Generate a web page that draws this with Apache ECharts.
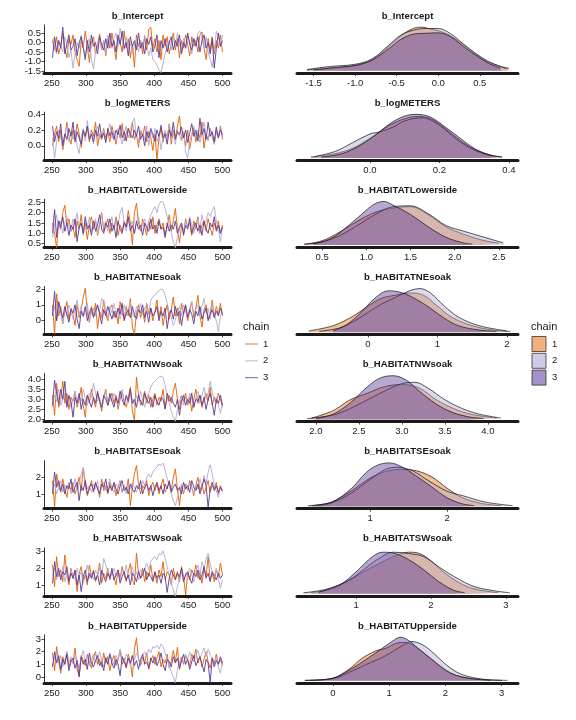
<!DOCTYPE html>
<html><head><meta charset="utf-8">
<script src="https://cdn.jsdelivr.net/npm/echarts@6/dist/echarts.min.js"></script>
<style>html,body{margin:0;padding:0;background:#fff}#c{width:576px;height:720px}</style>
</head><body><div id="c"></div>
<script>
// ---------- parameter names ----------
const params = ['b_Intercept','b_logMETERS','b_HABITATLowerside','b_HABITATNEsoak','b_HABITATNWsoak','b_HABITATSEsoak','b_HABITATSWsoak','b_HABITATUpperside'];
const chains = ['1','2','3'];
// trace values: every 3rd iteration starting at 251
const iterStart = 251, iterStep = 3;

// ---------- trace data (chain 1, 2, 3) ----------
const trIntercept1 = [0.1,-0.4,0.3,-0.6,-0.2,0.5,-0.3,-0.8,0.2,-0.1,0.4,-0.5,-0.9,-1.25,0.1,-0.3,0.6,-0.2,-1.05,0.0,0.3,-0.6,-0.1,0.45,-0.4,0.1,-0.7,0.2,-0.3,0.5,-0.2,-0.9,0.3,0.0,-0.5,0.6,-0.3,0.2,-0.8,-0.1,-1.3,0.4,-0.2,0.1,-0.6,0.3,-0.4,0.7,0.8,-0.3,0.2,-0.5,0.1,-0.9,0.4,-0.2,0.3,-0.6,0.0,0.5,-0.4,0.2,-0.8,0.1,-0.3,0.4,-0.1,-0.7,0.3,-0.2,0.1,-0.5,0.4,0.55,-0.3,-0.9,0.2,-0.4,0.3,-0.6,0.1,-0.3,0.4,-0.5];
const trIntercept2 = [0.2,-0.3,-0.6,0.1,-0.2,-0.5,0.3,-0.1,-0.8,-0.4,-1.35,-0.6,0.0,-0.3,0.4,-0.2,-0.7,-0.1,0.2,-0.9,-1.4,-0.5,-0.2,0.3,-0.4,0.1,-0.6,0.4,-0.1,-0.3,0.2,0.5,-0.2,0.75,0.1,-0.4,0.3,-0.3,0.0,-0.6,-0.2,0.2,-0.5,0.1,-0.3,0.4,-0.1,-0.7,-0.3,-0.9,-1.0,-1.2,-1.45,-1.58,-1.1,-0.6,-0.2,0.1,-0.4,0.3,-0.2,0.5,-0.1,-0.5,0.2,-0.3,0.4,0.0,-0.6,0.2,-0.1,0.5,0.6,0.2,-0.3,0.3,-0.5,-0.9,-1.3,-0.4,0.6,0.3,-0.2,0.4];
const trIntercept3 = [-0.8,0.3,-0.5,0.1,-0.3,0.8,-0.6,-0.1,0.4,-0.4,-0.2,0.2,-0.7,0.0,0.3,-0.3,-0.9,0.1,-0.5,0.4,-0.2,0.0,-0.6,0.3,-0.1,-0.4,0.2,-0.3,0.5,-0.2,0.1,-0.5,0.4,-0.1,0.6,-0.3,0.0,-0.7,0.3,-0.2,0.1,-0.4,0.5,-0.3,0.0,-0.6,0.2,-0.1,0.3,-0.5,-0.2,0.4,-0.8,0.1,-0.3,0.2,-0.5,0.0,0.3,-0.4,0.1,-0.2,0.4,-0.6,0.0,-0.3,0.5,-0.1,-0.4,0.2,-0.2,0.3,-0.5,0.1,0.4,-0.3,0.0,-0.6,0.2,-1.35,-0.3,0.5,-0.2,0.1];

const trLogMeters1 = [0.0,0.15,0.25,0.05,0.2,-0.05,0.1,0.3,0.12,0.02,0.2,0.08,0.28,0.15,-0.02,0.18,0.1,0.25,0.05,0.2,0.12,0.3,0.0,0.15,0.08,0.22,0.1,0.18,0.05,0.25,0.14,0.02,0.2,0.1,0.28,0.06,0.16,0.22,0.1,0.3,0.08,0.15,-0.02,0.2,0.12,0.25,0.05,0.18,0.1,-0.06,0.15,-0.17,0.1,0.22,0.05,0.18,0.12,0.28,0.02,0.2,0.1,0.25,0.38,0.08,0.15,0.0,0.2,-0.04,0.12,0.22,0.05,0.18,0.1,0.3,-0.03,0.15,0.08,0.22,0.12,0.02,0.2,0.1,0.25,0.08];
const trLogMeters2 = [0.1,-0.16,0.05,0.2,0.1,-0.02,0.15,0.25,0.05,0.18,0.08,0.2,0.0,-0.1,0.12,0.22,0.06,0.32,0.1,0.15,0.02,0.18,0.25,0.08,0.14,0.2,0.05,0.16,0.28,0.1,0.18,0.06,0.22,0.12,0.02,0.15,0.25,0.1,0.2,0.3,0.35,0.12,0.05,0.2,0.15,0.08,0.25,0.0,0.18,0.1,0.22,0.05,0.15,-0.05,0.12,0.2,0.08,0.28,0.1,0.15,0.02,0.2,0.12,0.06,0.18,-0.08,-0.16,0.05,0.15,0.25,0.1,0.2,0.04,0.16,0.3,0.12,0.06,0.22,0.15,0.02,0.18,0.1,0.26,0.12];
const trLogMeters3 = [0.25,0.05,0.18,0.1,0.28,0.0,0.15,0.08,0.22,0.12,0.3,0.05,0.18,0.1,0.02,0.2,0.12,0.25,0.08,0.15,0.05,0.2,0.12,0.28,0.1,0.16,0.04,0.22,0.13,0.18,0.08,0.2,0.14,0.26,0.1,0.18,0.06,0.22,0.15,0.1,0.2,0.12,0.25,0.08,0.15,0.0,0.18,0.1,0.22,0.14,0.06,0.2,0.12,0.26,0.1,0.15,0.02,0.2,0.12,0.3,0.08,0.18,0.14,0.24,0.1,0.2,0.04,0.16,0.28,0.12,0.2,0.06,0.35,0.14,0.22,0.08,0.3,0.12,0.18,0.05,0.24,0.1,0.2,0.14];

const trLowerside1 = [1.5,1.0,0.3,1.6,1.2,2.0,2.35,1.4,1.7,1.1,1.3,0.8,1.6,1.2,1.9,1.0,1.5,0.7,1.4,1.8,1.2,1.6,0.9,1.4,2.0,1.1,1.3,1.7,1.0,1.5,1.2,1.8,0.9,1.4,1.1,1.6,1.3,2.1,1.5,0.45,2.0,2.45,1.5,1.1,1.7,1.3,0.9,1.6,1.2,1.8,1.0,1.4,1.7,1.2,1.5,0.9,1.3,1.9,1.1,1.6,2.2,1.2,0.55,1.4,1.0,1.7,1.3,1.5,0.9,1.6,1.2,1.8,1.0,1.4,1.6,1.1,1.7,1.3,0.9,1.5,1.2,1.6,1.0,1.4];
const trLowerside2 = [0.8,1.4,1.9,1.2,1.6,1.0,1.5,1.8,1.3,1.1,1.7,1.4,2.0,1.2,1.5,0.9,1.6,1.3,1.8,1.1,1.4,1.7,1.0,1.5,1.9,1.3,1.6,1.1,1.4,1.8,1.2,1.6,1.4,2.0,2.25,1.5,1.1,1.7,1.3,1.6,1.0,1.5,1.8,1.2,1.4,1.7,1.1,1.6,1.9,2.1,2.3,2.0,2.4,2.55,2.5,2.2,1.8,1.4,1.0,0.6,0.3,0.8,1.2,1.5,1.1,1.6,1.3,1.8,1.4,1.0,1.5,1.7,1.2,1.9,1.4,1.6,2.0,1.8,2.1,2.3,1.6,1.2,0.6,1.3];
const trLowerside3 = [1.0,2.15,0.8,1.6,1.3,1.8,1.1,1.5,0.9,1.4,1.2,1.7,0.6,1.3,1.5,1.0,1.8,1.2,1.4,0.9,1.6,1.1,1.4,1.9,1.2,1.0,1.5,1.3,1.7,1.1,1.4,0.8,1.6,1.2,1.0,1.5,1.3,1.8,1.1,1.4,1.0,1.6,1.2,1.4,0.9,1.5,1.3,1.1,1.7,1.2,1.4,1.0,1.6,1.2,1.3,0.8,1.5,1.1,1.4,1.2,1.6,1.0,1.3,1.5,0.9,1.4,1.2,1.7,1.0,1.3,1.5,1.1,1.4,0.9,1.6,1.2,1.0,1.5,1.3,1.8,1.1,1.4,1.0,1.3];

const trNEsoak1 = [1.0,-0.85,1.7,0.3,0.9,-0.2,0.6,1.2,0.1,0.8,0.4,-0.3,1.0,0.2,0.7,1.5,2.05,0.5,-0.1,0.9,0.3,1.1,-0.5,0.6,0.2,1.3,0.4,0.0,0.8,1.0,0.2,0.6,-0.2,1.2,0.5,0.1,0.9,0.3,1.4,-0.4,-0.85,0.5,1.0,0.2,0.7,-0.1,1.1,0.4,0.8,0.0,0.6,1.3,0.2,0.9,-0.3,0.5,1.0,0.1,0.7,1.5,0.3,0.8,-0.2,1.1,0.4,0.9,0.0,0.6,1.2,0.2,0.8,1.6,0.3,-0.4,0.7,1.0,0.1,0.5,1.3,0.2,0.9,0.4,1.1,0.3];
const trNEsoak2 = [0.4,0.9,0.0,1.2,0.5,-0.2,0.8,0.3,1.0,0.6,0.1,0.7,1.3,0.4,0.9,0.2,0.6,1.1,0.0,0.5,0.8,0.3,1.0,0.6,1.4,1.2,0.7,0.2,0.9,0.5,1.1,0.4,0.8,0.1,0.6,1.0,0.3,0.7,1.2,0.5,0.2,0.9,0.6,1.1,0.4,0.8,1.0,0.5,1.3,1.5,1.6,1.8,1.9,2.0,1.95,1.6,1.1,0.6,0.2,-0.3,0.1,0.5,0.9,0.3,1.0,0.6,0.2,0.8,1.2,0.4,0.7,1.0,0.3,0.9,1.4,0.5,0.8,0.1,1.1,0.4,0.0,-0.7,0.3,0.6];
const trNEsoak3 = [0.3,1.85,0.0,1.2,0.6,0.2,0.9,0.4,-0.1,0.7,0.5,1.0,0.1,-0.5,0.6,0.3,0.9,0.0,0.5,0.8,0.2,0.6,1.0,0.4,-0.2,0.7,0.3,0.9,0.5,0.1,0.6,0.2,0.8,0.4,1.1,0.0,0.5,0.7,0.2,0.9,0.4,0.1,0.7,0.5,1.0,0.2,0.6,-0.1,0.8,0.3,0.5,0.9,0.0,0.6,0.3,0.8,-0.5,0.4,0.7,0.1,0.9,0.3,0.6,-0.3,0.5,1.0,0.2,0.7,0.4,-0.2,0.6,0.3,0.9,0.1,0.5,0.8,0.0,0.4,0.7,0.2,0.6,0.3,0.8,0.4];

const trNWsoak1 = [3.2,2.2,3.8,2.6,3.0,3.9,2.8,3.3,2.5,3.1,2.9,3.4,2.6,3.0,3.6,2.7,2.1,3.2,2.8,3.5,3.0,2.6,3.3,2.9,2.4,3.1,3.5,2.7,3.0,3.3,2.8,3.2,2.5,3.0,3.4,2.9,2.6,3.1,3.6,2.4,1.95,4.1,3.2,2.7,3.0,3.4,2.8,3.2,2.6,3.0,3.3,2.7,3.1,2.9,3.5,2.6,3.0,3.2,2.8,3.4,3.8,3.0,2.5,3.2,2.9,3.3,2.7,3.1,2.4,3.0,3.5,2.8,3.2,2.6,3.0,3.3,2.9,3.6,2.7,3.1,2.8,3.3,3.0,2.6];
const trNWsoak2 = [2.6,3.2,2.9,3.5,2.7,3.0,3.3,2.8,3.1,2.6,3.0,3.4,2.8,3.2,2.9,3.5,3.0,2.7,3.3,3.1,3.8,3.3,2.9,3.1,2.6,3.0,3.4,2.8,3.2,2.9,3.3,3.0,2.7,3.2,3.5,2.9,3.1,2.8,3.3,3.0,2.7,3.2,2.9,3.4,3.0,2.6,3.1,3.3,3.6,3.8,3.9,4.0,4.1,4.15,4.1,3.7,3.2,2.8,2.4,2.1,1.9,2.5,2.9,3.2,2.7,3.1,2.8,3.3,3.0,2.6,3.1,3.4,2.8,3.2,3.6,3.0,3.3,3.9,3.4,2.9,3.1,2.7,2.3,2.8];
const trNWsoak3 = [2.7,3.95,3.3,2.8,3.5,3.0,3.9,2.6,3.2,2.9,2.1,3.1,2.8,3.3,2.5,3.0,2.7,3.2,2.9,2.6,3.1,2.8,3.4,2.9,2.6,3.2,3.0,2.7,3.3,2.9,2.6,3.1,2.8,3.4,3.0,2.7,3.2,2.9,3.5,2.8,3.0,2.6,3.2,2.9,2.7,3.3,3.0,2.8,3.1,2.6,3.2,2.9,2.7,3.1,3.0,2.5,3.3,2.9,3.1,2.8,2.6,3.0,2.2,2.9,3.2,2.7,3.0,2.8,3.3,2.6,3.0,2.9,3.2,2.7,3.1,2.5,3.0,3.3,2.8,2.2,3.0,2.8,3.2,2.7];

const trSEsoak1 = [1.8,0.25,2.2,1.5,1.1,1.9,1.3,0.8,1.6,1.2,1.7,1.0,1.4,2.0,1.2,2.55,1.5,0.9,1.3,1.8,1.1,1.6,1.4,0.8,1.9,1.2,1.5,1.0,1.7,1.3,1.6,0.9,1.4,1.8,1.1,1.5,1.2,1.9,0.3,1.4,2.2,2.7,1.6,1.0,1.5,1.3,1.8,0.9,1.4,1.7,1.2,1.6,1.0,1.5,1.9,1.1,1.4,1.7,1.2,2.0,2.5,1.3,0.3,1.5,1.0,1.6,1.2,1.8,1.4,0.9,1.5,2.0,1.2,1.6,1.0,1.4,1.8,1.1,1.5,1.3,1.7,1.0,1.5,1.2];
const trSEsoak2 = [1.2,1.6,1.0,1.4,1.8,1.1,1.5,1.3,1.7,1.0,1.4,1.9,1.2,1.6,2.2,2.6,1.8,1.3,1.5,1.1,1.6,1.3,1.8,1.0,1.4,1.7,1.2,1.5,1.9,1.3,1.1,1.6,1.4,1.8,1.2,1.5,1.0,1.6,1.3,1.7,1.4,1.1,1.6,1.3,1.8,1.5,2.0,2.2,2.0,2.3,2.5,2.6,2.8,2.7,2.85,2.4,1.9,1.5,1.0,0.6,0.3,0.8,1.3,1.6,1.1,1.5,1.2,1.7,1.4,1.0,1.6,1.3,1.9,1.4,2.1,1.6,2.3,2.75,2.2,1.5,1.2,0.8,1.4,1.1];
const trSEsoak3 = [1.0,2.3,1.4,1.8,1.2,1.6,1.0,1.5,1.3,1.9,1.1,1.4,1.7,0.6,1.5,1.2,1.8,1.0,1.4,1.6,1.2,1.7,1.3,1.0,1.6,1.4,1.9,1.1,1.5,1.2,1.7,1.3,1.0,1.5,1.8,1.2,1.4,1.0,1.6,1.3,1.1,1.5,1.3,1.8,1.0,1.4,1.6,1.2,1.5,0.9,1.4,1.7,1.2,1.5,1.0,1.6,1.3,1.8,1.1,1.4,1.6,1.2,1.4,1.0,1.7,1.3,1.5,1.1,1.8,1.4,1.2,1.6,1.0,1.4,1.9,1.5,0.2,1.3,1.7,1.2,1.5,1.1,1.4,1.2];

const trSWsoak1 = [2.2,0.9,2.7,1.5,1.9,1.2,2.8,1.6,1.0,2.0,1.4,1.8,0.6,1.7,2.1,1.3,1.6,1.0,2.2,1.5,1.9,1.2,1.6,2.3,1.1,1.7,1.4,2.0,1.3,1.8,1.5,1.0,1.9,1.4,2.1,1.6,1.2,1.8,2.3,1.3,1.0,2.9,1.7,1.4,2.0,1.2,1.8,1.5,2.2,1.3,1.7,1.1,1.9,1.5,2.4,1.3,1.8,1.6,1.0,2.0,1.4,1.8,1.2,2.1,1.5,0.4,1.7,1.3,1.9,1.6,2.2,1.4,1.8,1.1,2.0,1.5,2.7,1.3,1.7,1.2,1.9,1.5,2.3,1.6];
const trSWsoak2 = [1.6,2.0,1.3,1.8,1.5,2.1,1.2,1.7,1.4,1.9,1.6,1.3,2.0,1.5,1.8,1.1,1.6,2.2,1.4,1.7,1.3,1.9,1.6,2.0,1.5,2.6,2.2,1.8,1.4,1.7,2.0,1.5,1.8,1.3,1.9,1.6,2.2,1.4,1.7,2.1,1.5,1.8,1.3,1.9,1.6,2.0,2.3,1.9,2.4,2.6,2.7,2.5,2.9,2.8,3.05,2.6,2.1,1.6,1.1,0.7,0.3,0.9,1.4,1.8,1.3,1.7,1.5,2.0,1.6,1.2,1.8,2.2,1.6,2.4,2.0,2.6,2.9,2.3,1.8,1.5,2.0,1.4,0.8,1.3];
const trSWsoak3 = [1.1,2.4,1.5,2.0,1.3,1.8,1.6,2.1,1.2,1.7,1.4,1.9,1.0,1.6,0.6,1.5,1.9,1.2,1.7,1.4,1.8,1.3,1.6,1.0,1.9,1.5,1.2,1.7,1.4,2.0,1.3,1.6,1.9,1.1,1.5,1.8,1.3,1.6,1.0,1.7,1.5,1.2,1.8,1.4,1.6,2.0,1.3,1.7,1.5,1.2,1.8,1.4,1.6,1.1,1.7,1.5,0.55,1.4,1.9,1.6,1.3,1.7,1.5,2.0,1.2,1.6,1.8,1.4,1.1,1.7,1.5,1.9,1.3,1.6,2.1,1.4,1.7,1.2,1.8,1.5,1.3,1.7,1.4,1.6];

const trUpperside1 = [1.9,0.5,2.4,1.2,0.3,1.6,1.0,2.0,0.8,1.4,1.1,2.3,0.6,0.1,1.7,1.3,0.9,1.8,1.2,0.7,1.5,2.0,1.0,1.4,0.8,1.9,1.1,1.6,0.5,1.3,1.7,0.9,1.4,2.1,1.0,1.5,0.7,1.8,1.2,0.0,2.2,3.1,1.4,0.9,1.6,1.1,1.9,0.6,1.3,1.7,1.0,1.5,2.0,0.8,1.4,1.1,1.8,0.7,1.3,2.1,1.2,2.35,0.6,1.5,1.0,1.7,1.3,0.9,1.8,1.4,2.2,1.1,1.6,0.8,1.4,2.0,1.2,0.7,1.5,1.1,1.8,1.0,1.4,0.9];
const trUpperside2 = [0.9,1.5,1.9,1.1,1.7,0.8,1.4,2.0,1.2,1.6,1.0,1.8,1.3,0.7,1.5,2.1,1.2,1.6,0.9,1.4,1.8,1.1,1.5,2.0,1.3,0.8,1.6,1.2,1.9,1.4,1.0,1.7,1.3,2.2,1.5,1.1,1.8,1.4,0.9,1.6,1.3,1.9,1.5,1.0,1.7,2.0,1.6,2.2,1.9,2.4,2.3,2.5,2.2,2.6,2.4,1.9,1.4,0.9,0.4,0.0,-0.45,0.6,1.2,1.6,1.1,1.8,1.4,2.0,1.5,1.2,1.7,2.1,1.5,1.9,2.3,1.6,2.2,1.8,1.4,1.0,1.6,0.8,0.3,1.2];
const trUpperside3 = [0.8,2.0,1.1,1.7,0.6,1.4,1.0,1.8,0.5,1.2,1.5,0.7,1.3,0.0,1.6,1.0,1.4,0.6,1.9,1.1,0.8,1.3,1.7,0.9,1.2,0.5,1.5,1.0,1.8,1.1,0.7,1.4,1.0,0.1,1.6,1.2,0.8,1.5,1.1,1.7,0.9,1.3,0.6,1.4,1.8,1.0,1.2,0.7,1.5,1.1,1.6,0.9,1.3,1.9,1.0,0.5,1.4,1.2,0.8,1.6,1.1,1.5,0.7,1.3,1.8,1.0,1.4,0.6,1.2,1.7,0.9,1.3,1.6,1.0,0.4,1.4,1.1,-0.45,1.5,0.8,1.3,1.0,1.6,1.1];

// ---------- density curves [value, relative density] ----------
const dnIntercept1 = [[-1.58,0.02],[-1.3,0.07],[-1.0,0.13],[-0.8,0.25],[-0.6,0.55],[-0.45,0.8],[-0.3,0.97],[-0.2,1.0],[-0.1,0.96],[0.0,0.92],[0.15,0.8],[0.3,0.6],[0.45,0.38],[0.6,0.2],[0.75,0.1],[0.85,0.06]];
const dnIntercept2 = [[-1.58,0.03],[-1.3,0.1],[-1.0,0.15],[-0.8,0.27],[-0.6,0.58],[-0.45,0.82],[-0.3,0.93],[-0.15,0.97],[0.0,0.97],[0.15,0.85],[0.3,0.62],[0.45,0.4],[0.6,0.22],[0.75,0.1],[0.82,0.05]];
const dnIntercept3 = [[-1.5,0.02],[-1.2,0.08],[-1.0,0.12],[-0.8,0.24],[-0.6,0.5],[-0.45,0.72],[-0.3,0.84],[-0.15,0.86],[0.0,0.87],[0.15,0.78],[0.3,0.56],[0.45,0.36],[0.6,0.18],[0.75,0.06]];

const dnLogMeters1 = [[-0.17,0.02],[-0.1,0.1],[-0.05,0.22],[0.0,0.45],[0.05,0.72],[0.1,0.9],[0.14,0.95],[0.18,0.88],[0.22,0.65],[0.26,0.4],[0.3,0.2],[0.35,0.06],[0.38,0.02]];
const dnLogMeters2 = [[-0.16,0.03],[-0.1,0.15],[-0.05,0.35],[0.0,0.55],[0.03,0.6],[0.07,0.72],[0.1,0.85],[0.15,0.92],[0.2,0.75],[0.25,0.42],[0.3,0.18],[0.35,0.04]];
const dnLogMeters3 = [[-0.14,0.02],[-0.08,0.1],[-0.03,0.28],[0.02,0.55],[0.06,0.8],[0.1,0.96],[0.13,1.0],[0.17,0.95],[0.21,0.75],[0.26,0.45],[0.3,0.22],[0.34,0.08],[0.38,0.02]];

const dnLowerside1 = [[0.3,0.02],[0.5,0.1],[0.7,0.3],[0.9,0.55],[1.1,0.75],[1.3,0.85],[1.5,0.88],[1.7,0.7],[1.9,0.42],[2.1,0.25],[2.3,0.12],[2.5,0.04]];
const dnLowerside2 = [[0.3,0.02],[0.5,0.07],[0.7,0.22],[0.9,0.45],[1.1,0.7],[1.3,0.88],[1.5,0.9],[1.7,0.72],[1.9,0.45],[2.1,0.32],[2.3,0.2],[2.55,0.05]];
const dnLowerside3 = [[0.4,0.03],[0.6,0.15],[0.8,0.45],[1.0,0.8],[1.1,0.95],[1.2,1.0],[1.3,0.92],[1.5,0.7],[1.7,0.42],[1.9,0.18],[2.1,0.05],[2.2,0.02]];

const dnNEsoak1 = [[-0.85,0.03],[-0.5,0.15],[-0.2,0.38],[0.0,0.6],[0.2,0.78],[0.4,0.85],[0.6,0.9],[0.8,0.85],[1.0,0.6],[1.2,0.35],[1.5,0.15],[1.8,0.05],[2.05,0.02]];
const dnNEsoak2 = [[-0.7,0.02],[-0.4,0.1],[-0.2,0.25],[0.0,0.45],[0.2,0.65],[0.4,0.8],[0.6,0.95],[0.75,1.0],[0.9,0.9],[1.1,0.6],[1.3,0.35],[1.6,0.15],[2.0,0.03]];
const dnNEsoak3 = [[-0.5,0.03],[-0.3,0.18],[-0.1,0.45],[0.1,0.78],[0.3,0.95],[0.5,0.9],[0.7,0.75],[0.9,0.55],[1.1,0.32],[1.3,0.15],[1.6,0.05],[1.85,0.02]];

const dnNWsoak1 = [[1.95,0.03],[2.2,0.2],[2.4,0.45],[2.6,0.6],[2.8,0.75],[3.0,0.8],[3.2,0.72],[3.4,0.45],[3.6,0.25],[3.8,0.12],[4.1,0.03]];
const dnNWsoak2 = [[1.9,0.02],[2.2,0.1],[2.4,0.25],[2.6,0.45],[2.8,0.65],[3.0,0.82],[3.15,0.85],[3.3,0.72],[3.5,0.45],[3.7,0.25],[3.9,0.12],[4.15,0.03]];
const dnNWsoak3 = [[2.0,0.02],[2.2,0.12],[2.4,0.38],[2.6,0.75],[2.75,0.95],[2.9,1.0],[3.05,0.9],[3.2,0.65],[3.4,0.35],[3.6,0.15],[3.8,0.05],[3.95,0.02]];

const dnSEsoak1 = [[0.25,0.02],[0.5,0.1],[0.75,0.35],[1.0,0.65],[1.2,0.8],[1.4,0.85],[1.6,0.82],[1.8,0.68],[2.0,0.42],[2.2,0.2],[2.45,0.07],[2.7,0.02]];
const dnSEsoak2 = [[0.3,0.02],[0.5,0.08],[0.75,0.3],[1.0,0.62],[1.2,0.85],[1.35,0.9],[1.55,0.82],[1.75,0.6],[2.0,0.35],[2.2,0.25],[2.5,0.1],[2.85,0.02]];
const dnSEsoak3 = [[0.2,0.02],[0.5,0.1],[0.75,0.4],[0.95,0.78],[1.1,0.95],[1.25,1.0],[1.4,0.92],[1.6,0.7],[1.8,0.45],[2.0,0.2],[2.2,0.06],[2.35,0.02]];

const dnSWsoak1 = [[0.4,0.02],[0.7,0.12],[0.9,0.3],[1.1,0.5],[1.3,0.68],[1.5,0.85],[1.7,0.95],[1.85,0.92],[2.0,0.75],[2.2,0.45],[2.5,0.15],[2.9,0.02]];
const dnSWsoak2 = [[0.3,0.02],[0.6,0.1],[0.9,0.3],[1.1,0.55],[1.3,0.8],[1.5,0.95],[1.7,0.92],[1.9,0.85],[2.1,0.62],[2.3,0.4],[2.6,0.15],[3.05,0.02]];
const dnSWsoak3 = [[0.5,0.03],[0.8,0.22],[1.0,0.5],[1.2,0.82],[1.35,0.95],[1.5,0.93],[1.7,0.78],[1.9,0.55],[2.1,0.28],[2.3,0.08],[2.45,0.02]];

const dnUpperside1 = [[-0.4,0.01],[0.0,0.06],[0.3,0.28],[0.5,0.5],[0.75,0.68],[0.95,0.75],[1.1,0.85],[1.25,0.88],[1.45,0.8],[1.7,0.55],[1.95,0.28],[2.2,0.12],[2.5,0.05],[2.8,0.02],[3.1,0.01]];
const dnUpperside2 = [[-0.5,0.01],[0.0,0.05],[0.3,0.2],[0.6,0.38],[0.9,0.55],[1.1,0.7],[1.25,0.82],[1.4,0.9],[1.6,0.82],[1.8,0.62],[2.0,0.38],[2.2,0.2],[2.4,0.1],[2.7,0.03],[3.0,0.01]];
const dnUpperside3 = [[-0.5,0.01],[0.0,0.06],[0.3,0.25],[0.6,0.5],[0.85,0.72],[1.05,0.9],[1.2,1.0],[1.35,0.92],[1.55,0.7],[1.8,0.45],[2.0,0.25],[2.2,0.12],[2.5,0.04],[2.8,0.01]];

// ---------- axis ranges and ticks ----------
const traceYMin = [-1.605,-0.183,0.326,-0.864,1.885,0.12,0.345,-0.47];
const traceYMax = [0.92,0.428,2.645,2.164,4.285,2.99,3.23,3.32];
const traceYTicks = [[-1.5,-1.0,-0.5,0.0,0.5],[0.0,0.2,0.4],[0.5,1.0,1.5,2.0,2.5],[0,1,2],[2.0,2.5,3.0,3.5,4.0],[1,2],[1,2,3],[0,1,2,3]];
const tickDecimals = [1,1,1,0,1,0,0,0];
const iterTicks = [250,300,350,400,450,500];
const iterMin = 238.5, iterMax = 512.5;
const densXMin = [-1.70,-0.21,0.216,-1.02,1.78,0.052,0.213,-0.64];
const densXMax = [0.96,0.426,2.716,2.16,4.35,2.92,3.16,3.29];
const densXTicks = [[-1.5,-1.0,-0.5,0.0,0.5],[0.0,0.2,0.4],[0.5,1.0,1.5,2.0,2.5],[0,1,2],[2.0,2.5,3.0,3.5,4.0],[1,2],[1,2,3],[0,1,2,3]];

const traces = [
  [trIntercept1,trIntercept2,trIntercept3],
  [trLogMeters1,trLogMeters2,trLogMeters3],
  [trLowerside1,trLowerside2,trLowerside3],
  [trNEsoak1,trNEsoak2,trNEsoak3],
  [trNWsoak1,trNWsoak2,trNWsoak3],
  [trSEsoak1,trSEsoak2,trSEsoak3],
  [trSWsoak1,trSWsoak2,trSWsoak3],
  [trUpperside1,trUpperside2,trUpperside3]
];
const dens = [
  [dnIntercept1,dnIntercept2,dnIntercept3],
  [dnLogMeters1,dnLogMeters2,dnLogMeters3],
  [dnLowerside1,dnLowerside2,dnLowerside3],
  [dnNEsoak1,dnNEsoak2,dnNEsoak3],
  [dnNWsoak1,dnNWsoak2,dnNWsoak3],
  [dnSEsoak1,dnSEsoak2,dnSEsoak3],
  [dnSWsoak1,dnSWsoak2,dnSWsoak3],
  [dnUpperside1,dnUpperside2,dnUpperside3]
];

// ---------- styling ----------
const FONT = '"Liberation Sans", Arial, Helvetica, sans-serif';
const lineColors = ['#E66101','#B2ABD2','#5E3C99'];
const fillColors = ['rgba(230,97,1,0.58)','rgba(178,171,210,0.62)','rgba(94,60,153,0.64)'];
const legendFill = ['#F2B080','#D0CBE4','#A690C8'];
const textColor = '#1a1a1a';
const rowStep = 87.14, firstLabelY = 83;
const leftX = 44, leftW = 187, rightX = 297, rightW = 221;
const FS = 9.5;

const grid = [], xAxis = [], yAxis = [], series = [], graphic = [];
params.forEach((p, i) => {
  const L = firstLabelY + rowStep * i;
  const top = L - 58, h = 48;
  const dec = tickDecimals[i];
  const ticks = traceYTicks[i];
  const ticksA = ticks.filter((_, k) => k % 2 === 0);
  const ticksB = ticks.filter((_, k) => k % 2 === 1);
  const yA = yAxis.length, yB = yA + 1, yD = yA + 2;
  // trace panel
  grid.push({left: leftX, top: top, width: leftW, height: h});
  xAxis.push({type:'value', gridIndex: 2*i, min: iterMin, max: iterMax,
    axisLine:{show:true, onZero:false, lineStyle:{color:'#1a1a1a', width:3}},
    axisTick:{show:true, length:3, customValues: iterTicks, lineStyle:{color:'#1a1a1a', width:0.8}},
    axisLabel:{customValues: iterTicks, margin:5, fontSize:FS, color:textColor, fontFamily:FONT},
    splitLine:{show:false}});
  // two overlapping y axes so that tightly spaced tick labels are all kept
  [ticksA, ticksB].forEach((tv, n) => {
    yAxis.push({type:'value', gridIndex: 2*i, position:'left', offset:0, min: traceYMin[i], max: traceYMax[i],
      axisLine:{show: n === 0, onZero:false, lineStyle:{color:'#1a1a1a', width:0.9}},
      axisTick:{show:true, length:2.5, customValues: tv, lineStyle:{color:'#1a1a1a', width:0.8}},
      axisLabel:{customValues: tv, margin:3, fontSize:FS, color:textColor, fontFamily:FONT,
        formatter: v => Number(v).toFixed(dec)},
      splitLine:{show:false}});
  });
  // density panel
  grid.push({left: rightX, top: top, width: rightW, height: h});
  xAxis.push({type:'value', gridIndex: 2*i+1, min: densXMin[i], max: densXMax[i],
    axisLine:{show:true, onZero:false, lineStyle:{color:'#1a1a1a', width:3}},
    axisTick:{show:true, length:3, customValues: densXTicks[i], lineStyle:{color:'#1a1a1a', width:0.8}},
    axisLabel:{customValues: densXTicks[i], margin:5, fontSize:FS, color:textColor, fontFamily:FONT,
      formatter: v => Number(v).toFixed(dec)},
    splitLine:{show:false}});
  yAxis.push({type:'value', gridIndex: 2*i+1, min: -0.05, max: 1.05, show:false});

  traces[i].forEach((arr, c) => {
    series.push({type:'line', name: chains[c], xAxisIndex: 2*i, yAxisIndex: yA,
      data: arr.map((v, k) => [iterStart + iterStep*k, v]),
      showSymbol:false, symbol:'none', silent:true, animation:false,
      lineStyle:{color: lineColors[c], width:1.0, opacity:0.92}, z: 2 + c});
  });
  dens[i].forEach((arr, c) => {
    series.push({type:'line', name: chains[c], xAxisIndex: 2*i+1, yAxisIndex: yD,
      data: arr, smooth: 0.35, showSymbol:false, symbol:'none', silent:true, animation:false,
      lineStyle:{color:'#111', width:0.7},
      areaStyle:{color: fillColors[c], origin: 0}, z: 2 + c});
  });

  // panel titles
  graphic.push({type:'text', x: leftX + leftW/2, y: L - 67, silent:true,
    style:{text: p, textAlign:'center', textVerticalAlign:'middle', font: 'bold 9.6px ' + FONT, fill: textColor}});
  graphic.push({type:'text', x: rightX + rightW/2, y: L - 67, silent:true,
    style:{text: p, textAlign:'center', textVerticalAlign:'middle', font: 'bold 9.6px ' + FONT, fill: textColor}});
});

// legends
graphic.push({type:'text', x: 243, y: 327, silent:true,
  style:{text:'chain', textAlign:'left', textVerticalAlign:'middle', font:'11px ' + FONT, fill: textColor}});
graphic.push({type:'text', x: 531, y: 327, silent:true,
  style:{text:'chain', textAlign:'left', textVerticalAlign:'middle', font:'11px ' + FONT, fill: textColor}});
chains.forEach((c, j) => {
  const yy = 344 + 16.8 * j;
  graphic.push({type:'line', silent:true, shape:{x1:245, y1:yy, x2:258, y2:yy},
    style:{stroke: lineColors[j], lineWidth:1.3, opacity:0.65}});
  graphic.push({type:'text', x: 263, y: yy, silent:true,
    style:{text:c, textAlign:'left', textVerticalAlign:'middle', font:'9.5px ' + FONT, fill: textColor}});
  graphic.push({type:'rect', silent:true, shape:{x:532, y: yy - 7.5, width:14, height:15},
    style:{fill: legendFill[j], stroke:'#333', lineWidth:0.8}});
  graphic.push({type:'text', x: 552, y: yy, silent:true,
    style:{text:c, textAlign:'left', textVerticalAlign:'middle', font:'9.5px ' + FONT, fill: textColor}});
});

const chart = echarts.init(document.getElementById('c'), null, {renderer:'canvas'});
chart.setOption({backgroundColor:'#fff', animation:false, grid, xAxis, yAxis, series, graphic});
</script>
</body></html>
